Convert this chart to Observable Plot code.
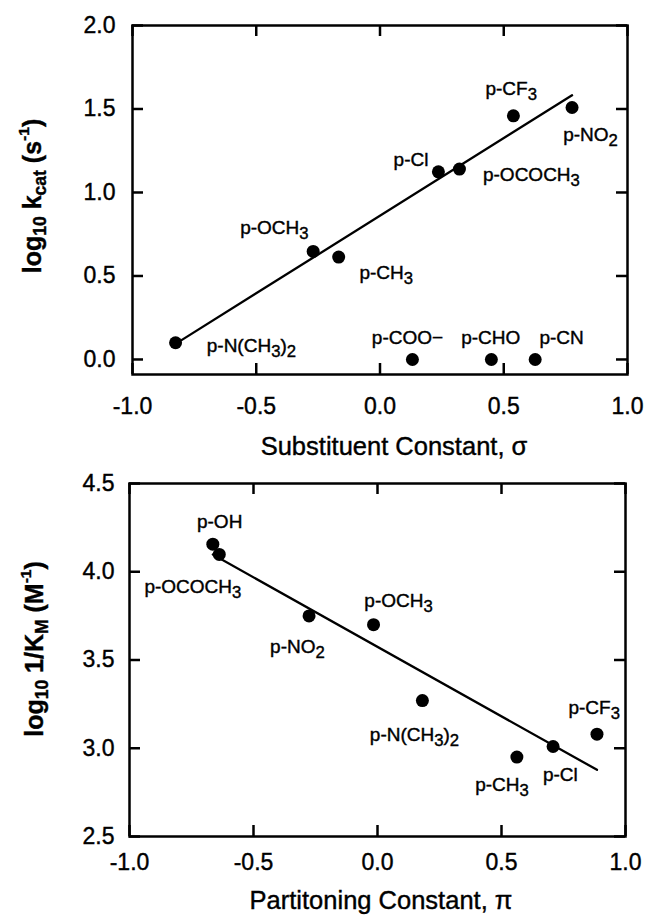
<!DOCTYPE html>
<html><head><meta charset="utf-8">
<script src="https://cdn.jsdelivr.net/npm/d3@7"></script>
<script src="https://cdn.jsdelivr.net/npm/@observablehq/plot@0.6"></script>
<style>
body{margin:0;background:#fff;}
#chart{width:648px;height:916px;font-family:"Liberation Sans",Arial,Helvetica,sans-serif;}
#chart text{stroke:#000;stroke-width:0.4px;}
svg{display:block;}
</style></head><body><div id="chart"></div>
<script>
// ---- Panel A: log10 kcat vs substituent constant sigma ----
const substA = ["p-N(CH_3)_2","p-OCH_3","p-CH_3","p-Cl","p-OCOCH_3","p-CF_3","p-NO_2","p-COO\u2212","p-CHO","p-CN"];
const sigma = [-0.826,-0.27,-0.167,0.236,0.321,0.539,0.776,0.131,0.45,0.627];
const logKcat = [0.10,0.647,0.613,1.124,1.14,1.459,1.509,0,0,0];
const fitA = [true,true,true,true,true,true,true,false,false,false];
const labelSigma = [-0.70,-0.565,-0.083,0.055,0.416,0.426,0.74,-0.033,0.328,0.644];
const labelKcat = [0.08,0.79,0.52,1.194,1.104,1.618,1.343,0.13,0.13,0.13];
const xTicks = [-1,-0.5,0,0.5,1];
const yTicksA = [0,0.5,1,1.5,2];

// ---- Panel B: log10 1/KM vs partitioning constant pi ----
const substB = ["p-OH","p-OCOCH_3","p-NO_2","p-OCH_3","p-N(CH_3)_2","p-CH_3","p-Cl","p-CF_3"];
const piVal = [-0.664,-0.638,-0.276,-0.016,0.181,0.562,0.708,0.885];
const logInvKm = [4.156,4.098,3.75,3.70,3.27,2.95,3.01,3.08];
const labelPi = [-0.728,-0.94,-0.433,-0.053,-0.031,0.394,0.667,0.77];
const labelKm = [4.28,3.915,3.575,3.834,3.075,2.79,2.85,3.226];
const yTicksB = [2.5,3,3.5,4,4.5];

const FONT = "Liberation Sans, Arial, Helvetica, sans-serif";
const fmt = d => d.toFixed(1);
const TICK = 11;

const dataA = substA.map((s,i)=>({name:s,x:sigma[i],y:logKcat[i],fit:fitA[i],lx:labelSigma[i],ly:labelKcat[i]}));
const dataB = substB.map((s,i)=>({name:s,x:piVal[i],y:logInvKm[i],lx:labelPi[i],ly:labelKm[i]}));

function panel({data, yDomain, yTicks, height, marginTop, marginBottom, marginLeft, marginRight, xPad, yPad}) {
  const plotH = height - marginTop - marginBottom;
  const plotW = 648 - marginLeft - marginRight;
  return Plot.plot({
    width: 648, height, marginTop, marginBottom, marginLeft, marginRight,
    style: {fontFamily: FONT, color: "#000"},
    x: {domain: [-1, 1]},
    y: {domain: yDomain},
    marks: [
      Plot.frame({stroke: "black", strokeWidth: 2.5, fill: "none"}),
      Plot.axisX(xTicks, {anchor: "bottom", tickSize: 0, tickPadding: xPad, fontSize: 23, tickFormat: fmt, label: null}),
      Plot.axisY(yTicks, {anchor: "left", tickSize: 0, tickPadding: yPad, fontSize: 23, tickFormat: fmt, label: null}),
      Plot.linearRegressionY(data.filter(d => d.fit !== false), {x: "x", y: "y", ci: 0, stroke: "black", strokeWidth: 2.3}),
      Plot.dot(data, {x: "x", y: "y", r: 6.5, fill: "black", stroke: "none"}),
      Plot.text(data, {x: "lx", y: "ly", text: "name", textAnchor: "start", fontSize: 19, fill: "black"}),
      // inward ticks on all four sides
      Plot.tickX(xTicks, {x: d => d, insetTop: plotH - TICK, strokeWidth: 2.5, stroke: "black"}),
      Plot.tickX(xTicks, {x: d => d, insetBottom: plotH - TICK, strokeWidth: 2.5, stroke: "black"}),
      Plot.tickY(yTicks, {y: d => d, insetRight: plotW - TICK, strokeWidth: 2.5, stroke: "black"}),
      Plot.tickY(yTicks, {y: d => d, insetLeft: plotW - TICK, strokeWidth: 2.5, stroke: "black"})
    ]
  });
}

function richify(svg) {
  d3.select(svg).selectAll("text").each(function() {
    const t = this.textContent;
    if (!t.includes("_")) return;
    const parts = t.split(/_(\d)/);
    const sel = d3.select(this);
    sel.text(null);
    parts.forEach((p, i) => {
      if (!p) return;
      const ts = sel.append("tspan").text(p);
      if (i % 2 === 1) ts.attr("baseline-shift", "-0.32em").attr("font-size", "88%");
    });
  });
}

function addTitle(svg, x, y, parts, {rotate = 0, size = 26, weight = "normal"} = {}) {
  const t = d3.select(svg).append("text")
    .attr("transform", `translate(${x},${y}) rotate(${rotate})`)
    .attr("text-anchor", "middle")
    .attr("font-family", FONT)
    .attr("font-size", size)
    .attr("font-weight", weight)
    .attr("fill", "black");
  parts.forEach(([s, kind]) => {
    const ts = t.append("tspan").text(s);
    if (kind === "sub") ts.attr("baseline-shift", "-0.3em").attr("font-size", "70%");
    if (kind === "sup") ts.attr("baseline-shift", "0.75em").attr("font-size", "62%");
  });
}

const chart = document.getElementById("chart");

const svgA = panel({data: dataA, yDomain: [-0.09, 2.0], yTicks: yTicksA, height: 460,
  marginTop: 25, marginBottom: 86, marginLeft: 132, marginRight: 21, xPad: 23, yPad: 17});
richify(svgA);
addTitle(svgA, 41, 196, [["log"], ["10","sub"], [" k"], ["cat","sub"], [" (s"], ["-1","sup"], [")"]], {rotate: -90, size: 25, weight: "bold"});
addTitle(svgA, 394, 455, [["Substituent Constant, \u03c3"]], {size: 25.5});
chart.appendChild(svgA);

const svgB = panel({data: dataB, yDomain: [2.5, 4.5], yTicks: yTicksB, height: 456,
  marginTop: 23, marginBottom: 80, marginLeft: 129, marginRight: 23, xPad: 17, yPad: 15});
richify(svgB);
addTitle(svgB, 43, 189, [["log"], ["10","sub"], [" 1/K"], ["M","sub"], [" (M"], ["-1","sup"], [")"]], {rotate: -90, size: 25, weight: "bold"});
addTitle(svgB, 381, 449, [["Partitoning Constant, \u03c0"]], {size: 25.5});
chart.appendChild(svgB);
</script>
</body></html>
